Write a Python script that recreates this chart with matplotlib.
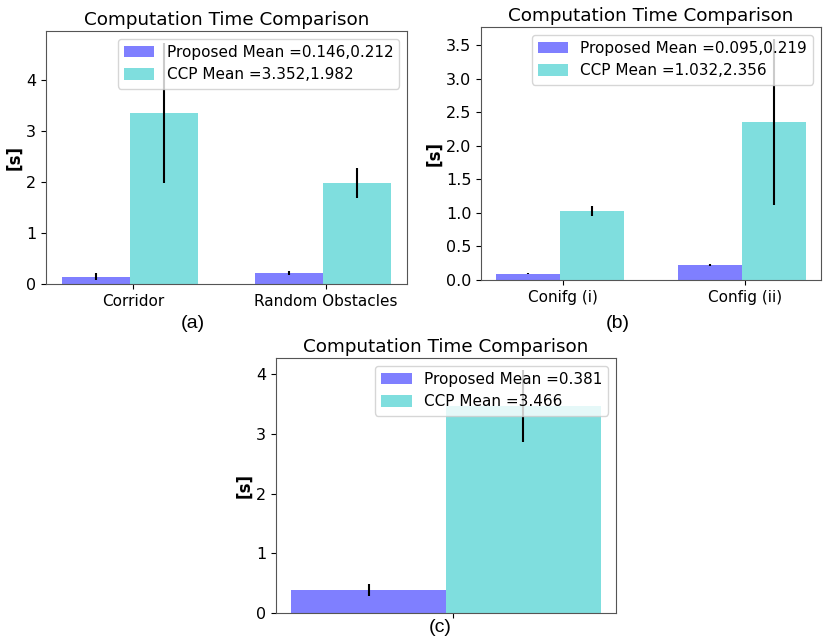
import numpy as np
import matplotlib.pyplot as plt

# data
labels_a = ['Corridor', 'Random Obstacles']
proposed_a = [0.146, 0.212]
proposed_err_a = [0.06, 0.045]
ccp_a = [3.352, 1.982]
ccp_err_a = [1.37, 0.30]

labels_b = ['Conifg (i)', 'Config (ii)']
proposed_b = [0.095, 0.219]
proposed_err_b = [0.004, 0.013]
ccp_b = [1.032, 2.356]
ccp_err_b = [0.07, 1.24]

labels_c = ['']
proposed_c = [0.381]
proposed_err_c = [0.10]
ccp_c = [3.466]
ccp_err_c = [0.60]

W, H = 826, 642
fig = plt.figure(figsize=(W / 100, H / 100), dpi=100)


def px_axes(x0, y0, x1, y1):
    # pixel box (top-left origin) -> figure axes
    return fig.add_axes([x0 / W, 1 - y1 / H, (x1 - x0) / W, (y1 - y0) / H])


def panel(ax, labels, prop, prop_err, ccp, ccp_err, yticks=None):
    width = 0.35
    index = np.arange(len(labels))
    ax.bar(index, prop, width, color='b', alpha=0.5, yerr=prop_err,
           error_kw=dict(ecolor='black', elinewidth=1.5),
           label='Proposed Mean =' + ','.join(f'{v:.3f}' for v in prop))
    ax.bar(index + width, ccp, width, color='c', alpha=0.5, yerr=ccp_err,
           error_kw=dict(ecolor='black', elinewidth=1.5),
           label='CCP Mean =' + ','.join(f'{v:.3f}' for v in ccp))
    ax.set_xticks(index + 0.19)
    ax.set_xticklabels(labels, fontsize=11)
    ax.tick_params(axis='y', labelsize=11.5)
    if yticks is not None:
        ax.set_yticks(yticks)
    ax.set_ylabel('[s]', fontsize=12, fontweight='bold', labelpad=2)
    ax.set_title('Computation Time Comparison', fontsize=13.2, pad=4)
    ax.legend(loc='upper right', fontsize=11, handlelength=2.0, handleheight=0.8)
    for s in ax.spines.values():
        s.set_color('#555555')


ax_a = px_axes(46, 31, 407, 284)
panel(ax_a, labels_a, proposed_a, proposed_err_a, ccp_a, ccp_err_a, [0, 1, 2, 3, 4])

ax_b = px_axes(481, 27, 821, 280)
panel(ax_b, labels_b, proposed_b, proposed_err_b, ccp_b, ccp_err_b,
      [0, 0.5, 1.0, 1.5, 2.0, 2.5, 3.0, 3.5])

ax_c = px_axes(276, 358, 616, 613)
panel(ax_c, labels_c, proposed_c, proposed_err_c, ccp_c, ccp_err_c, [0, 1, 2, 3, 4])

for txt, x, y in [('(a)', 193, 323), ('(b)', 618, 323), ('(c)', 440, 628)]:
    fig.text(x / W, 1 - y / H, txt, ha='center', va='center',
             fontsize=14, family='Liberation Sans')

plt.savefig('out.png', dpi=100)
